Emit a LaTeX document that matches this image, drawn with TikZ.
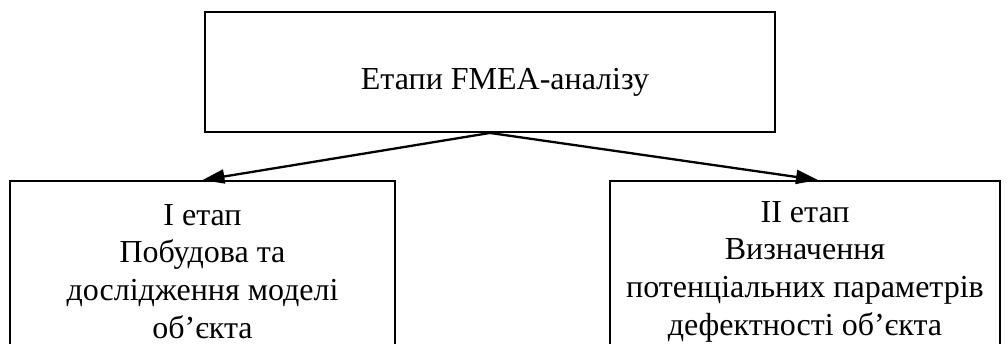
\documentclass[tikz,border=0pt]{standalone}
\usepackage{fontspec}
\setmainfont{Liberation Serif}
\usetikzlibrary{arrows.meta}
\begin{document}
\begin{tikzpicture}[x=1pt,y=-1pt,
  box/.style={draw=black, line width=1.9pt, align=center, inner sep=0pt,
    font=\fontsize{32}{37.7}\selectfont},
  conn/.style={line width=2.3pt, -{Triangle[length=22pt,width=14pt]}}]
\useasboundingbox (0,0) rectangle (1008,344);
\clip (0,0) rectangle (1008,344);
\node[box, minimum width=570pt, minimum height=120pt, text height=36pt, text depth=0pt]
  (top) at (490,72) {\hspace*{30pt}Етапи FMEA-аналізу};
\node[box, minimum width=385pt, minimum height=181pt] (left) at (202.5,271.5)
  {I етап\\Побудова та\\дослідження моделі\\об’єкта};
\node[box, minimum width=390pt, minimum height=181pt] (right) at (805,271.5)
  {II етап\\Визначення\\потенціальних параметрів\\дефектності об’єкта};
\draw[conn] (top.south) -- (left.north);
\draw[conn] (top.south) -- ([xshift=13pt]right.north);
\end{tikzpicture}
\end{document}
